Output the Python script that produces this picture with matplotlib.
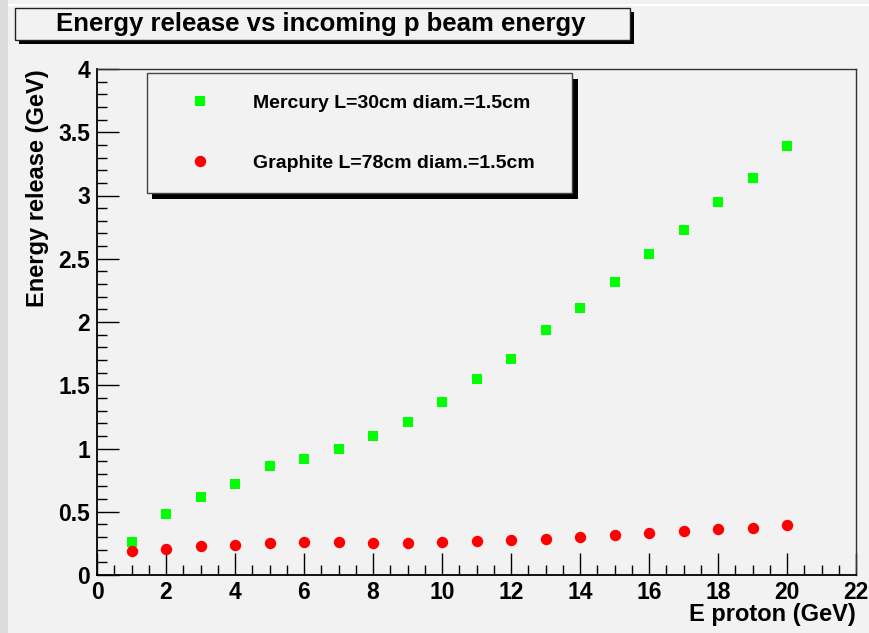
import numpy as np
import matplotlib.pyplot as plt
from matplotlib.patches import Rectangle
from matplotlib.lines import Line2D

# Data
e_proton = [1, 2, 3, 4, 5, 6, 7, 8, 9, 10, 11, 12, 13, 14, 15, 16, 17, 18, 19, 20]
mercury = [0.26, 0.48, 0.62, 0.72, 0.86, 0.92, 0.995, 1.10, 1.21, 1.37,
           1.55, 1.71, 1.94, 2.11, 2.32, 2.54, 2.73, 2.95, 3.14, 3.39]
graphite = [0.19, 0.205, 0.227, 0.24, 0.255, 0.258, 0.26, 0.255, 0.255, 0.258,
            0.27, 0.277, 0.287, 0.30, 0.318, 0.33, 0.35, 0.36, 0.374, 0.395]

title = 'Energy release vs incoming p beam energy'
label_mercury = 'Mercury L=30cm diam.=1.5cm'
label_graphite = 'Graphite L=78cm diam.=1.5cm'

W, H = 869, 633
bg = '#f2f2f2'
plt.rcParams['font.family'] = ['Liberation Sans', 'DejaVu Sans']
plt.rcParams['font.weight'] = 'bold'
plt.rcParams['axes.labelweight'] = 'bold'

fig = plt.figure(figsize=(W / 100, H / 100), dpi=100, facecolor=bg)

def fx(px):
    return px / W

def fy(py):
    return 1 - py / H

# canvas decorations (ROOT style)
fig.patches.append(Rectangle((0, 0), fx(8), 1, transform=fig.transFigure,
                             facecolor='#dcdcdc', edgecolor='none', zorder=0))
fig.patches.append(Rectangle((fx(8), fy(6)), 1, 2 / H, transform=fig.transFigure,
                             facecolor='white', edgecolor='none', zorder=0))

ax = fig.add_axes([fx(97), fy(575), fx(856) - fx(97), fy(69) - fy(575)])
ax.set_facecolor(bg)

ax.plot(e_proton, mercury, 's', color='#00ff00', markersize=7.2, markeredgewidth=0)
ax.plot(e_proton, graphite, 'o', color='#ff0000', markersize=8.2, markeredgewidth=0)

ax.set_xlim(0, 22)
ax.set_ylim(0, 4)
ax.set_xticks(np.arange(0, 23, 2))
ax.set_xticks(np.arange(0, 22.01, 0.5), minor=True)
ax.set_yticks(np.arange(0, 4.01, 0.5))
ax.set_yticks(np.arange(0, 4.001, 0.1), minor=True)
ax.set_yticklabels(['0', '0.5', '1', '1.5', '2', '2.5', '3', '3.5', '4'])
ax.tick_params(which='both', direction='in', top=False, right=False, labelsize=16.5, width=1)
ax.tick_params(which='major', length=16)
ax.tick_params(which='minor', length=7.5)
ax.tick_params(axis='y', pad=5)
ax.tick_params(axis='x', pad=4)

for s in ['left', 'bottom']:
    ax.spines[s].set_linewidth(1.3)
for s in ['top', 'right']:
    ax.spines[s].set_linewidth(1.0)
    ax.spines[s].set_color('#333333')

ax.set_xlabel('E proton (GeV)', fontsize=17, loc='right')
ax.xaxis.set_label_coords(1.0, -0.056)
ax.set_ylabel('Energy release (GeV)', fontsize=17, loc='top')
ax.yaxis.set_label_coords(-0.063, 1.0)

# title box with shadow
fig.patches.append(Rectangle((fx(19), fy(44)), fx(634) - fx(19), (44 - 12) / H,
                             transform=fig.transFigure, facecolor='black', edgecolor='none'))
fig.patches.append(Rectangle((fx(15), fy(40)), fx(630) - fx(15), (40 - 8) / H,
                             transform=fig.transFigure, facecolor=bg, edgecolor='#222222', linewidth=1))
fig.text(fx(321), fy(24), title, fontsize=18.5, ha='center', va='center')

# legend box with shadow
leg_frame = [
    Rectangle((fx(152), fy(199)), fx(578) - fx(152), (199 - 79) / H,
              transform=fig.transFigure, facecolor='black', edgecolor='none', zorder=5),
    Rectangle((fx(147), fy(193)), fx(572) - fx(147), (193 - 73) / H,
              transform=fig.transFigure, facecolor=bg, edgecolor='#444444', linewidth=1, zorder=6),
]
for p in leg_frame:
    fig.patches.append(p)

handles = [
    Line2D([], [], marker='s', linestyle='none', color='#00ff00', markersize=7.2, markeredgewidth=0),
    Line2D([], [], marker='o', linestyle='none', color='#ff0000', markersize=8.2, markeredgewidth=0),
]
leg = fig.legend(handles, [label_mercury, label_graphite], loc='upper left',
                 bbox_to_anchor=(fx(181), fy(94)), frameon=False, fontsize=14,
                 handlelength=2, handletextpad=1.72, labelspacing=2.2,
                 borderpad=0, borderaxespad=0)
leg.set_zorder(7)

fig.savefig('out.png', dpi=100, facecolor=bg)
